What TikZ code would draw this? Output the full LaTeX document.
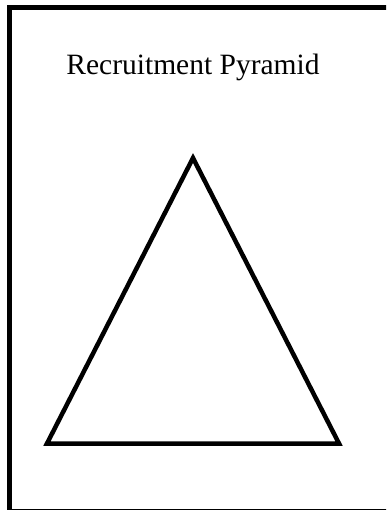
\documentclass[tikz,border=0pt]{standalone}
\usepackage{fontspec}
\setmainfont{Liberation Serif}
\begin{document}
\begin{tikzpicture}[x=1pt,y=-1pt,
  frame/.style={draw=black,line width=5pt},
  pyramid/.style={draw=black,line width=4.5pt,line join=miter},
  titletext/.style={anchor=base,inner sep=0pt,font=\fontsize{29.5}{35}\selectfont}]
\useasboundingbox (0,0) rectangle (386,510);
\clip (0,0) rectangle (386,510);
\draw[frame] (9.5,7.5) rectangle (420,511.5);
\node[titletext] (title) at (193,75) {Recruitment Pyramid};
\coordinate (apex) at (193,158);
\coordinate (bl) at (47,443.5);
\coordinate (br) at (339,443.5);
\draw[pyramid] (apex) -- (bl) -- (br) -- cycle;
\end{tikzpicture}
\end{document}
